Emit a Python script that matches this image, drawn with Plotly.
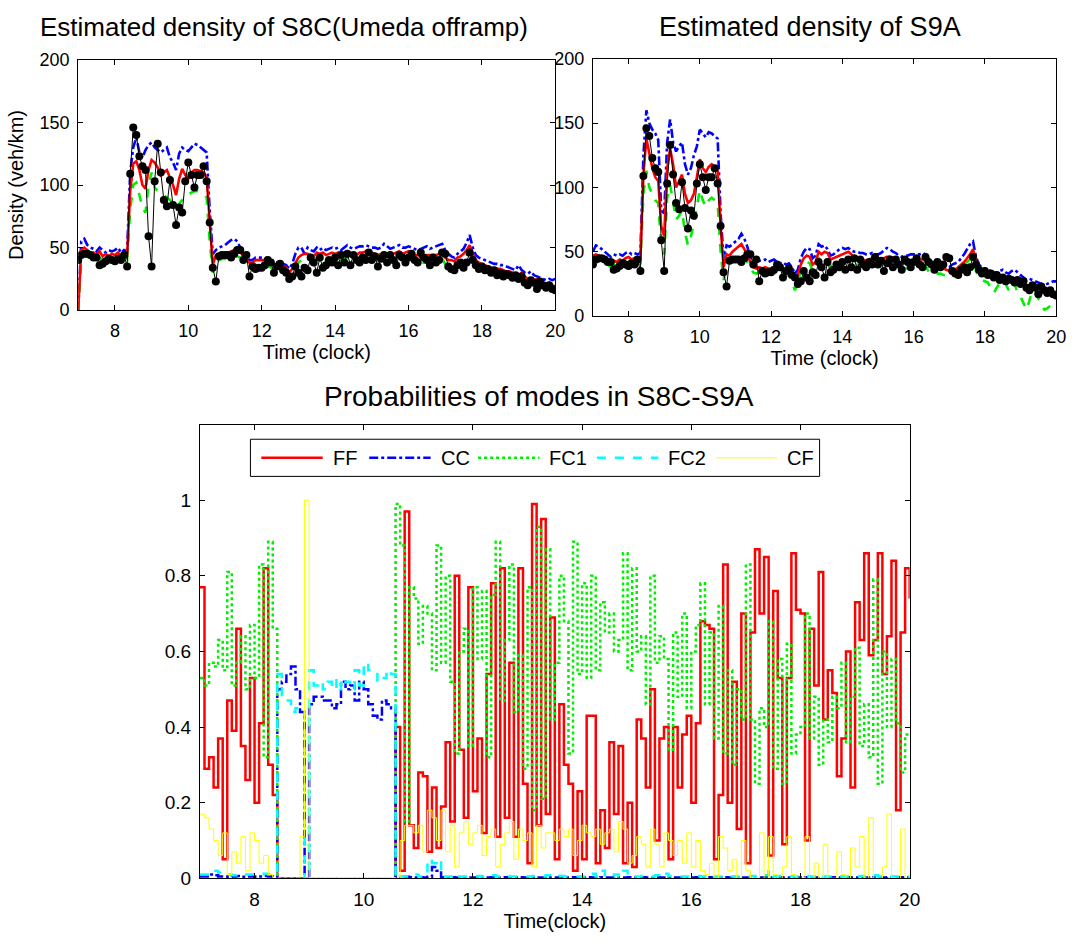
import plotly.graph_objects as go

# time grid: 7:00 to 20:00 every 5 minutes
time_h = [7 + k / 12 for k in range(157)]

measured = [
    40,44,45,45,44,42,42,36,37,39,41,40,
    39,41,40,44,35,109,146,140,123,115,112,59,
    35,103,133,110,88,83,104,84,68,82,78,103,
    118,108,98,108,108,115,103,70,34,23,43,44,
    44,44,42,45,48,48,40,44,27,35,33,34,
    34,36,40,38,30,35,37,32,30,25,27,35,
    30,27,34,32,42,38,30,42,34,36,40,38,
    42,36,44,38,45,36,44,40,38,42,40,46,
    40,43,35,41,44,38,44,40,36,44,42,38,
    42,45,40,38,46,42,40,36,42,38,40,46,
    45,35,33,32,36,38,34,38,46,40,36,33,
    35,32,33,30,32,28,30,27,29,28,26,28,
    25,27,22,20,24,22,17,23,20,18,20,17,16]

s8c_est = [
    0,48,50,48,45,46,44,47,43,45,43,45,
    44,46,43,45,44,95,117,119,112,100,97,112,
    120,118,114,108,110,112,106,100,92,105,113,108,
    105,110,112,112,111,110,106,70,36,44,45,46,
    45,46,47,48,48,46,44,40,38,38,40,40,
    40,40,39,37,36,36,35,35,34,30,33,38,
    42,44,45,45,44,43,46,45,46,44,45,46,
    45,46,44,46,47,45,45,44,46,46,47,45,
    46,45,44,45,46,45,44,45,46,47,45,46,
    47,45,44,44,43,43,44,44,44,44,45,46,
    42,40,40,39,42,43,45,48,52,45,40,38,
    37,36,35,34,33,33,33,32,31,31,30,29,
    28,30,27,25,25,24,25,23,22,21,22,20,19]

s8c_upper = [
    0,55,57,52,50,49,47,50,48,46,48,47,
    48,50,46,48,47,110,130,138,126,122,128,132,
    134,130,128,126,128,130,122,118,112,125,130,128,
    127,130,133,132,130,128,126,80,45,48,50,51,
    52,54,56,57,55,50,45,42,40,40,42,42,
    42,42,41,40,39,38,38,37,36,33,37,45,
    50,50,45,50,48,47,50,48,50,48,49,50,
    49,50,48,50,52,50,49,50,51,51,52,51,
    50,50,49,50,53,51,49,50,51,52,50,50,
    51,50,49,48,49,50,51,49,50,51,52,53,
    48,45,43,42,45,47,49,54,60,50,44,42,
    41,40,39,38,37,37,36,36,35,34,33,32,
    36,32,30,29,31,28,27,26,25,24,25,24,25]

s8c_lower = [
    0,42,44,43,41,42,40,42,40,41,39,41,
    40,42,40,41,40,80,100,102,92,82,78,100,
    110,98,95,93,92,90,88,85,82,85,88,90,
    92,94,95,95,94,93,90,55,30,38,40,41,
    41,42,42,43,43,42,40,37,35,35,36,36,
    36,36,35,34,33,33,32,32,31,28,30,34,
    38,40,40,40,40,39,42,40,41,40,40,41,
    40,42,40,41,42,41,40,40,41,42,42,40,
    41,40,40,41,42,40,39,40,41,42,40,41,
    42,40,39,39,38,38,39,39,39,40,41,41,
    37,35,35,34,37,38,40,44,48,40,35,33,
    32,31,30,29,28,28,28,27,26,26,25,24,
    23,25,22,20,20,19,20,18,17,16,17,15,14]

s9a_est = [
    47,48,47,46,45,44,42,43,42,44,43,45,
    46,44,45,44,45,110,138,125,115,108,105,70,
    62,115,130,118,100,105,110,95,88,90,95,108,
    122,115,112,116,118,116,113,70,38,48,47,50,
    52,54,56,52,48,42,38,37,38,37,38,37,
    37,38,37,36,37,35,36,33,30,32,40,45,
    47,46,40,42,50,48,50,49,44,45,46,47,
    48,49,50,48,46,45,44,44,43,44,45,44,
    43,44,45,46,46,45,44,42,41,42,42,43,
    43,44,44,44,44,40,38,37,38,38,37,36,
    35,35,36,38,40,42,45,48,52,42,36,34,
    33,32,32,30,29,30,31,30,29,30,29,28,
    29,25,23,24,22,21,22,21,20,19,18,18,17]

s9a_upper = [
    50,55,54,52,50,48,46,48,47,48,47,49,
    50,48,49,48,49,125,160,150,145,142,137,82,
    80,135,153,135,128,132,135,118,110,115,125,132,
    145,142,139,143,142,140,138,80,45,55,54,56,
    58,60,64,60,54,45,42,42,43,43,44,42,
    43,44,42,41,42,40,41,38,33,36,45,50,
    53,52,45,47,56,54,55,52,47,48,50,52,
    53,52,53,51,50,50,49,49,48,48,49,48,
    48,49,51,53,52,50,49,47,46,47,47,48,
    48,48,48,49,48,45,40,38,40,42,40,39,
    38,40,41,42,45,48,52,56,58,46,40,38,
    37,36,35,34,34,35,36,34,33,35,36,34,
    32,30,28,29,28,27,26,25,24,25,26,27,27]

s9a_lower = [
    42,44,43,42,41,40,38,40,38,40,39,41,
    42,40,41,40,41,95,113,100,95,90,88,55,
    48,92,102,90,75,78,82,65,55,62,72,85,
    98,90,85,90,92,90,88,50,28,40,42,43,
    44,46,48,45,42,37,34,33,34,33,34,33,
    33,34,33,32,33,31,32,28,20,26,35,40,
    42,41,35,37,45,43,45,44,39,40,41,42,
    43,43,44,42,40,40,39,39,38,39,40,39,
    38,39,40,41,41,40,39,37,36,37,37,38,
    38,39,39,39,39,35,33,32,33,33,32,31,
    30,31,33,35,37,40,42,44,46,35,30,28,
    27,26,22,18,22,26,28,25,20,26,25,18,
    15,10,5,12,20,18,14,10,5,6,8,9,8]

p_ff = [
    0.77,0.29,0.32,0.24,0.37,0.05,0.47,0.39,0.66,0.35,0.26,0.53,
    0.20,0.41,0.82,0.30,0.22,0,0,0,0,0,0,0,
    0,0,0,0,0,0,0,0,0,0,0,0,
    0,0,0,0,0,0,0,0.40,0.02,0.97,0.14,0.08,
    0.28,0.27,0.07,0.24,0.08,0.19,0.36,0.15,0.80,0.34,0.16,0.77,
    0.23,0.37,0.12,0.54,0.78,0.11,0.82,0.16,0.57,0.11,0.82,0.25,
    0.04,0.99,0.14,0.95,0.17,0.69,0.05,0.46,0.30,0.25,0.02,0.23,
    0.05,0.43,0.43,0.04,0.18,0.08,0.36,0.17,0.35,0.04,0.20,0.03,
    0.42,0.37,0.24,0.50,0.10,0.37,0.40,0.05,0.40,0.24,0.38,0.43,
    0.20,0.41,0.68,0.67,0.66,0.05,0.22,0.83,0.20,0.52,0.13,0.70,
    0.04,0.65,0.87,0.70,0.85,0.06,0.76,0.53,0.09,0.53,0.86,0.71,
    0.70,0.10,0.66,0.51,0.81,0.42,0.55,0.49,0.27,0.37,0.60,0.24,
    0.73,0.63,0.86,0.59,0.63,0.86,0.54,0.64,0.84,0.18,0.65,0.82,0.74]

p_cc = [
    0.005,0.005,0.01,0.008,0.005,0.005,0.004,0.005,0.006,0.004,0.005,0.005,
    0.004,0.005,0.006,0.005,0.004,0.50,0.52,0.54,0.56,0.50,0.44,0,
    0.46,0.48,0.48,0.47,0.47,0.45,0.46,0.52,0.50,0.51,0.47,0.52,
    0.50,0.46,0.43,0.42,0.47,0.46,0.45,0,0.003,0.004,0.003,0.002,
    0.003,0.002,0.004,0.03,0.02,0.003,0.002,0.003,0.002,0.003,0.002,0.002,
    0.002,0.003,0.002,0.002,0.003,0.002,0.002,0.003,0.002,0.002,0.003,0.002,
    0.002,0.003,0.002,0.002,0.003,0.002,0.002,0.003,0.002,0.002,0.003,0.002,
    0.002,0.003,0.002,0.002,0.003,0.002,0.002,0.003,0.002,0.002,0.003,0.002,
    0.002,0.003,0.002,0.002,0.003,0.002,0.002,0.003,0.002,0.002,0.003,0.002,
    0.002,0.003,0.002,0.002,0.003,0.002,0.002,0.003,0.002,0.002,0.003,0.002,
    0.002,0.003,0.002,0.002,0.003,0.002,0.002,0.003,0.002,0.002,0.003,0.002,
    0.002,0.003,0.002,0.002,0.003,0.002,0.002,0.003,0.002,0.002,0.003,0.002,
    0.002,0.003,0.002,0.002,0.003,0.002,0.002,0.003,0.002,0.002,0.003,0.002,0.002]

p_fc1 = [
    0.53,0.51,0.57,0.56,0.63,0.55,0.81,0.51,0.57,0.64,0.50,0.67,
    0.53,0.83,0.32,0.89,0.66,0,0,0,0,0,0,0,
    0,0,0,0,0,0,0,0,0,0,0,0,
    0,0,0,0,0,0,0,0.99,0.88,0.15,0.77,0.74,
    0.62,0.72,0.70,0.55,0.88,0.57,0.80,0.52,0.33,0.60,0.66,0.35,
    0.77,0.58,0.76,0.32,0.75,0.89,0.47,0.63,0.83,0.44,0.59,0.29,
    0.77,0.18,0.93,0.21,0.87,0.42,0.57,0.80,0.68,0.33,0.89,0.54,
    0.78,0.53,0.80,0.55,0.73,0.65,0.70,0.60,0.63,0.86,0.55,0.82,
    0.60,0.64,0.46,0.80,0.57,0.64,0.58,0.34,0.65,0.48,0.70,0.45,
    0.60,0.67,0.78,0.46,0.65,0.37,0.72,0.33,0.55,0.30,0.50,0.42,
    0.83,0.42,0.25,0.45,0.40,0.68,0.29,0.58,0.25,0.62,0.33,0.38,
    0.40,0.70,0.37,0.48,0.30,0.42,0.36,0.48,0.45,0.57,0.36,0.48,
    0.61,0.35,0.46,0.32,0.79,0.25,0.60,0.40,0.58,0.41,0.28,0.38,0.38]

p_fc2 = [
    0.01,0.01,0.012,0.02,0.015,0.01,0.01,0.008,0.01,0.01,0.01,0.01,
    0.01,0.01,0.012,0.01,0.01,0.54,0.48,0.47,0.44,0.45,0.45,0,
    0.55,0.51,0.52,0.50,0.52,0.50,0.53,0.50,0.52,0.50,0.55,0.51,
    0.57,0.55,0.55,0.52,0.53,0.55,0.54,0,0.005,0.005,0.005,0.01,
    0.005,0.008,0.05,0.04,0.05,0.005,0.005,0.005,0.01,0.005,0.005,0.005,
    0.005,0.006,0.005,0.005,0.008,0.005,0.005,0.006,0.005,0.005,0.005,0.005,
    0.005,0.006,0.005,0.005,0.008,0.005,0.005,0.006,0.005,0.005,0.005,0.005,
    0.005,0.006,0.012,0.005,0.02,0.005,0.005,0.01,0.005,0.02,0.005,0.005,
    0.005,0.006,0.005,0.005,0.008,0.005,0.012,0.006,0.005,0.005,0.005,0.005,
    0.005,0.006,0.005,0.005,0.008,0.005,0.005,0.006,0.005,0.005,0.005,0.005,
    0.005,0.006,0.005,0.005,0.008,0.02,0.005,0.006,0.005,0.005,0.005,0.005,
    0.005,0.006,0.005,0.005,0.008,0.005,0.005,0.006,0.005,0.005,0.005,0.005,
    0.005,0.006,0.005,0.005,0.008,0.005,0.005,0.006,0.005,0.005,0.005,0.005,0.005]

p_cf = [
    0.17,0.16,0.13,0.10,0.06,0.12,0.01,0.07,0.04,0.11,0.02,0.12,
    0.10,0.04,0.06,0.01,0.0,0,0,0,0,0,0.11,1.0,
    0.002,0.002,0.002,0.002,0.002,0.002,0.002,0.002,0.002,0.002,0.002,0.002,
    0.002,0.002,0.002,0.002,0.002,0.002,0.002,0,0.10,0.14,0.14,0.12,
    0.14,0.07,0.18,0.16,0.10,0.18,0.07,0.14,0.03,0.12,0.15,0.09,
    0.12,0.14,0.06,0.11,0.13,0.03,0.09,0.12,0.15,0.05,0.13,0.10,
    0.12,0.03,0.14,0.08,0.12,0.12,0.10,0.13,0.11,0.13,0.06,0.10,
    0.14,0.12,0.11,0.13,0.09,0.12,0.13,0.07,0.15,0.13,0.04,0.06,
    0.11,0.09,0.03,0.13,0.09,0.03,0.12,0.10,0.06,0.10,0.04,0.12,
    0.03,0.10,0.02,0.01,0.04,0.0,0.11,0.08,0.02,0.05,0.0,0.10,
    0.02,0.0,0.0,0.12,0.0,0.11,0.01,0.0,0.03,0.11,0.01,0.0,
    0.0,0.11,0.0,0.04,0.0,0.09,0.0,0.0,0.07,0.01,0.0,0.08,
    0.03,0.11,0.0,0.16,0.0,0.0,0.03,0.17,0.0,0.0,0.13,0.0,0.02]

x_ticks = [8, 10, 12, 14, 16, 18, 20]
density_ticks = [0, 50, 100, 150, 200]
prob_ticks = [0, 0.2, 0.4, 0.6, 0.8, 1]
prob_tick_text = ["0", "0.2", "0.4", "0.6", "0.8", "1"]

mode_names = ["FF", "CC", "FC1", "FC2", "CF"]
mode_values = [p_ff, p_cc, p_fc1, p_fc2, p_cf]
mode_colors = ["#ff0000", "#0000ff", "#00ee00", "#00ffff", "#ffff00"]
mode_dash = ["solid", "dashdot", "dot", "dash", "solid"]
mode_width = [2.5, 2.5, 2.5, 2.5, 1]

for arr in [measured, s8c_est, s8c_upper, s8c_lower, s9a_est, s9a_upper, s9a_lower] + mode_values:
    assert len(arr) == len(time_h), len(arr)

FONT = "Liberation Sans, Arial, Helvetica, sans-serif"
W, H = 1084, 945

fig = go.Figure()

def density_traces(est, up, lo, xa, ya):
    fig.add_trace(go.Scatter(x=time_h, y=up, mode="lines", xaxis=xa, yaxis=ya,
                             line=dict(color="#0000ff", width=2.6, dash="dashdot")))
    fig.add_trace(go.Scatter(x=time_h, y=lo, mode="lines", xaxis=xa, yaxis=ya,
                             line=dict(color="#00ee00", width=2.6, dash="dash")))
    fig.add_trace(go.Scatter(x=time_h, y=est, mode="lines", xaxis=xa, yaxis=ya,
                             line=dict(color="#ff0000", width=2.6)))
    fig.add_trace(go.Scatter(x=time_h, y=measured, mode="lines+markers", xaxis=xa, yaxis=ya,
                             line=dict(color="black", width=1),
                             marker=dict(color="black", size=8)))

density_traces(s8c_est, s8c_upper, s8c_lower, "x", "y")
density_traces(s9a_est, s9a_upper, s9a_lower, "x2", "y2")

for name, vals, col, dsh, wd in zip(mode_names, mode_values, mode_colors, mode_dash, mode_width):
    fig.add_trace(go.Scatter(x=time_h, y=vals, mode="lines", name=name, xaxis="x3", yaxis="y3",
                             line=dict(color=col, width=wd, dash=dsh, shape="hv")))

def px_x(p):
    return p / W

def px_y(p):
    return 1 - p / H

def axis_style(size):
    return dict(showline=True, linecolor="black", linewidth=1, mirror="allticks",
                ticks="inside", ticklen=5, tickcolor="black", showgrid=False,
                zeroline=False, ticklabelstandoff=4,
                tickfont=dict(family=FONT, size=size, color="black"))

fig.update_layout(
    width=W, height=H, margin=dict(l=0, r=0, t=0, b=0),
    paper_bgcolor="white", plot_bgcolor="white", showlegend=False,
    font=dict(family=FONT, color="black"),
    xaxis=dict(domain=[px_x(79), px_x(561)], range=[7, 20], tickvals=x_ticks, anchor="y",
               title=dict(text="Time (clock)", font=dict(size=20), standoff=4), **axis_style(18)),
    yaxis=dict(domain=[px_y(307), px_y(51)], range=[0, 200], tickvals=density_ticks, anchor="x",
               title=dict(text="Density (veh/km)", font=dict(size=20), standoff=10), **axis_style(18)),
    xaxis2=dict(domain=[px_x(599), px_x(1067)], range=[7, 20], tickvals=x_ticks, anchor="y2",
                title=dict(text="Time (clock)", font=dict(size=20), standoff=4), **axis_style(18)),
    yaxis2=dict(domain=[px_y(313), px_y(50)], range=[0, 200], tickvals=density_ticks, anchor="x2",
                **axis_style(18)),
    xaxis3=dict(domain=[px_x(202), px_x(919)], range=[7, 20], tickvals=x_ticks, anchor="y3",
                title=dict(text="Time(clock)", font=dict(size=20), standoff=4), **axis_style(19)),
    yaxis3=dict(domain=[px_y(888), px_y(424)], range=[0, 1.2], tickvals=prob_ticks,
                ticktext=prob_tick_text, anchor="x3", **axis_style(19)),
)

titles = [
    ("Estimated density of S8C(Umeda offramp)", 287, 17, 26),
    ("Estimated density of S9A", 818, 17, 27),
    ("Probabilities of modes in S8C-S9A", 545, 395, 28),
]
ann = []
for text, cx, cy, fs in titles:
    ann.append(dict(text=text, x=px_x(cx), y=px_y(cy), xref="paper", yref="paper",
                    showarrow=False, xanchor="center", yanchor="middle",
                    font=dict(family=FONT, size=fs, color="black")))

# custom legend (MATLAB-style long line samples)
shapes = [dict(type="rect", xref="paper", yref="paper",
               x0=px_x(253), x1=px_x(828), y0=px_y(477), y1=px_y(439),
               line=dict(color="black", width=1), fillcolor="white", layer="above")]
leg_line_x = [264, 373, 483, 603, 723]
leg_y = 458
for name, col, dsh, wd, lx in zip(mode_names, mode_colors, mode_dash, mode_width, leg_line_x):
    shapes.append(dict(type="line", xref="paper", yref="paper",
                       x0=px_x(lx), x1=px_x(lx + 62), y0=px_y(leg_y), y1=px_y(leg_y),
                       line=dict(color=col, width=wd, dash=dsh), layer="above"))
    ann.append(dict(text=name, x=px_x(lx + 70), y=px_y(leg_y), xref="paper", yref="paper",
                    showarrow=False, xanchor="left", yanchor="middle",
                    font=dict(family=FONT, size=20, color="black")))

fig.update_layout(annotations=ann, shapes=shapes)
fig.write_html("out.html", config={"displayModeBar": False},
               post_script="document.body.style.margin='0px';document.body.style.overflow='hidden';")
